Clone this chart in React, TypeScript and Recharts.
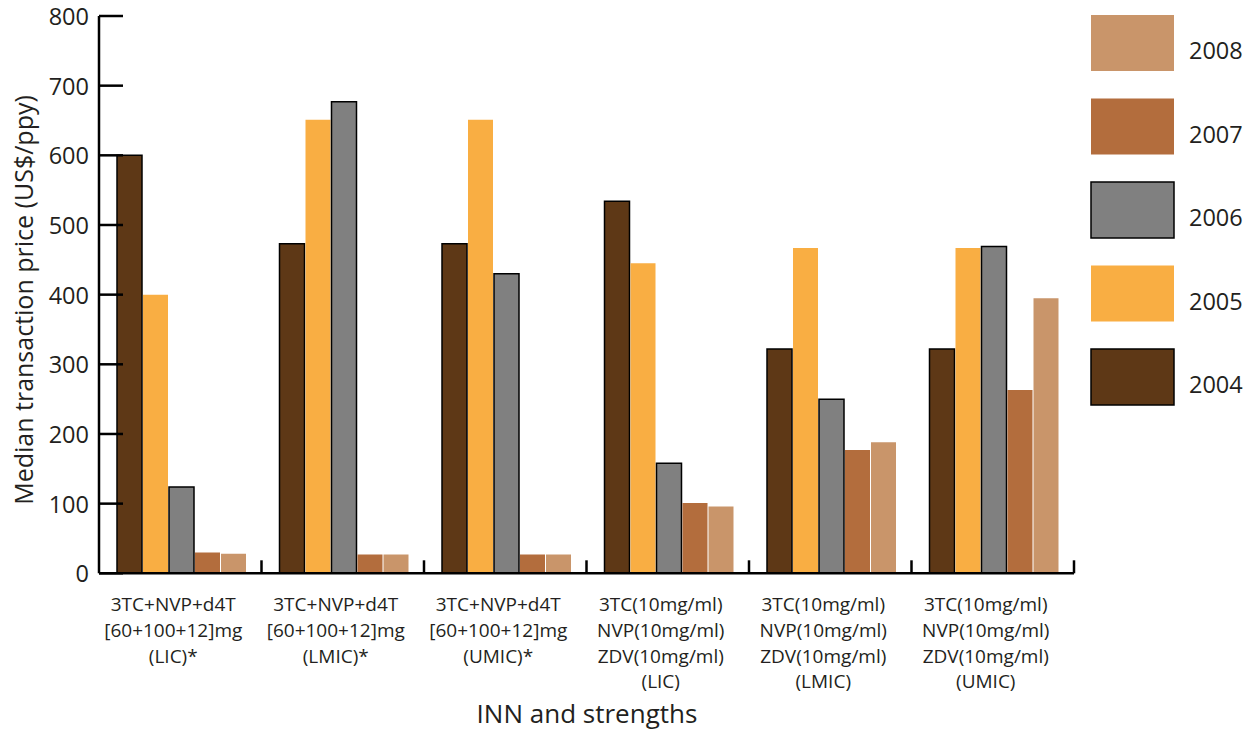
import React from 'react';
import { BarChart, Bar, XAxis, YAxis, Legend, Label } from 'recharts';

// ---------- data ----------
const categories = [
  '3TC+NVP+d4T\n[60+100+12]mg\n(LIC)*',
  '3TC+NVP+d4T\n[60+100+12]mg\n(LMIC)*',
  '3TC+NVP+d4T\n[60+100+12]mg\n(UMIC)*',
  '3TC(10mg/ml)\nNVP(10mg/ml)\nZDV(10mg/ml)\n(LIC)',
  '3TC(10mg/ml)\nNVP(10mg/ml)\nZDV(10mg/ml)\n(LMIC)',
  '3TC(10mg/ml)\nNVP(10mg/ml)\nZDV(10mg/ml)\n(UMIC)',
];
const years = ['2004', '2005', '2006', '2007', '2008'];
const v2004 = [600, 473, 473, 534, 322, 322];
const v2005 = [400, 651, 651, 445, 467, 467];
const v2006 = [124, 677, 430, 158, 250, 469];
const v2007 = [30, 27, 27, 101, 177, 263];
const v2008 = [28, 27, 27, 96, 188, 395];
const yTicks = [0, 100, 200, 300, 400, 500, 600, 700, 800];
const yTitle = 'Median transaction price (US$/ppy)';
const xTitle = 'INN and strengths';

const fills = ['#5e3816', '#f9ae43', '#808080', '#b36d3d', '#c9956a'];
const strokes = ['#000', 'none', '#000', 'none', 'none'];

const series = [v2004, v2005, v2006, v2007, v2008];
const data = categories.map((c, i) => {
  const row: any = { name: c };
  years.forEach((y, k) => { row['y' + y] = series[k][i]; });
  return row;
});

// ---------- layout ----------
const W = 1253;
const H = 731;
const LEGEND_W = 170;
const Y_W = 80;
const M = { top: 16, right: 9, bottom: 0, left: 19 };
const PLOT_LEFT = M.left + Y_W;
const PLOT_RIGHT = W - M.right - LEGEND_W;
const PLOT_BOTTOM = 573.3;
const BAND = (PLOT_RIGHT - PLOT_LEFT) / categories.length;
const FONT = '"Open Sans", "DejaVu Sans", sans-serif';
const TXT = '#231f20';

const XTick = (props: any) => {
  const { x, y, payload } = props;
  const lines = String(payload.value).split('\n');
  const cx = x - 7;
  return (
    <g>
      <line x1={x + BAND / 2} x2={x + BAND / 2} y1={y} y2={y - 13} stroke="#000" strokeWidth={2.5} />
      <text x={cx} y={y + 38} textAnchor="middle" fontSize={19} fill={TXT} fontFamily={FONT}>
        {lines.map((l, i) => (
          <tspan key={i} x={cx} dy={i === 0 ? 0 : 25.7}>{l}</tspan>
        ))}
      </text>
    </g>
  );
};

const YTick = (props: any) => {
  const { y, payload } = props;
  const x = PLOT_LEFT;
  return (
    <g>
      <line x1={x} x2={x + 24} y1={y} y2={y} stroke="#000" strokeWidth={2.5} />
      <text x={x - 10} y={y} dy="0.38em" textAnchor="end" fontSize={23.5} fill={TXT} fontFamily={FONT}>
        {payload.value}
      </text>
    </g>
  );
};

const YTitle = () => {
  const cx = 24;
  const cy = 300;
  return (
    <text x={cx} y={cy} transform={`rotate(-90 ${cx} ${cy})`} textAnchor="middle" dy="0.35em"
      fontSize={25} fill={TXT} fontFamily={FONT}>{yTitle}</text>
  );
};

const XTitle = () => (
  <text x={587} y={714} textAnchor="middle" dy="0.35em" fontSize={26} fill={TXT} fontFamily={FONT}>{xTitle}</text>
);

const LegendContent = () => {
  const order = [...years.keys()].reverse();
  return (
    <svg width={LEGEND_W} height={420} style={{ display: 'block' }}>
      {order.map((k, i) => {
        const top = 15 + i * 83.5;
        return (
          <g key={years[k]}>
            <rect x={17} y={top} width={83} height={56} fill={fills[k]}
              stroke={strokes[k] === 'none' ? 'none' : '#000'} strokeWidth={1.5} />
            <text x={115} y={top + 36} dy="0.36em" fontSize={23.5} fill={TXT} fontFamily={FONT}>{years[k]}</text>
          </g>
        );
      })}
    </svg>
  );
};

export default function App() {
  return (
    <div style={{ position: 'absolute', left: 0, top: 0, width: W, height: H }}>
      <BarChart width={W} height={H} data={data} margin={M} barCategoryGap={18} barGap={1}>
        <XAxis dataKey="name" interval={0} height={H - PLOT_BOTTOM - M.bottom} tickSize={0} tickMargin={0}
          tickLine={false} axisLine={{ stroke: '#000', strokeWidth: 2.5 }} tick={<XTick />}>
          <Label content={<XTitle />} />
        </XAxis>
        <YAxis width={Y_W} domain={[0, 800]} ticks={yTicks} interval={0} tickSize={0} tickMargin={0}
          tickLine={false} axisLine={{ stroke: '#000', strokeWidth: 2.5 }} tick={<YTick />} allowDataOverflow>
          <Label content={<YTitle />} />
        </YAxis>
        <Legend layout="vertical" align="right" verticalAlign="top" wrapperStyle={{ top: 0 }}
          content={<LegendContent />} />
        {years.map((y, k) => (
          <Bar key={y} dataKey={'y' + y} name={y} fill={fills[k]}
            stroke={strokes[k]} strokeWidth={strokes[k] === 'none' ? 0 : 1.5}
            isAnimationActive={false} />
        ))}
      </BarChart>
    </div>
  );
}
